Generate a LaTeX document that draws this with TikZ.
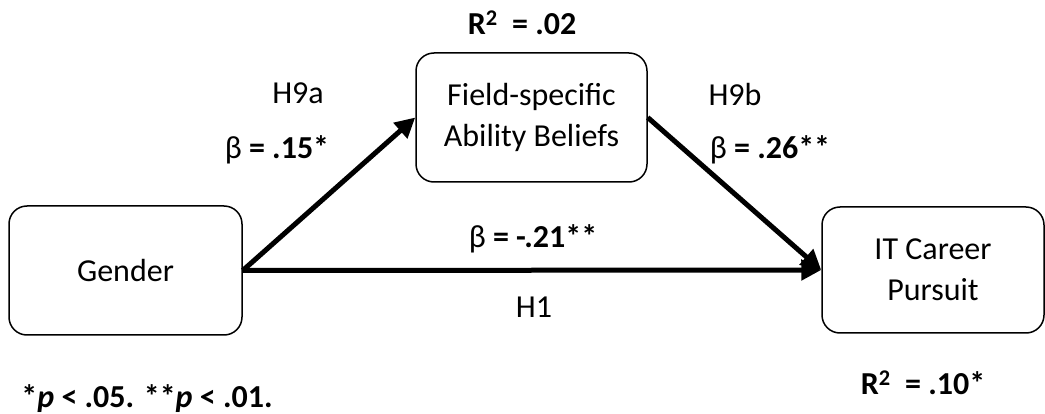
\documentclass[tikz,border=0pt]{standalone}
\usepackage{fontspec}
\setmainfont{Carlito}
\usetikzlibrary{arrows.meta,positioning}

\tikzset{
	varbox/.style = {shape=rectangle, draw, line width=1.5pt,
	rounded corners=18pt, align=center,
	font=\fontsize{32}{41}\selectfont},
	effect/.style = {line width=5pt, -{Triangle[length=20pt,width=20pt]}},
	coef/.style = {font=\fontsize{32}{40}\selectfont},
	stat/.style = {font=\fontsize{32}{40}\selectfont\bfseries}
}

\begin{document}
\begin{tikzpicture}[x=1pt, y=-1pt]
\useasboundingbox (0,0) rectangle (1045,414);

% the three variables
\node[varbox, minimum width=233pt, minimum height=129pt] (gender) at (125.5,270.5) {Gender};
\node[varbox, minimum width=231pt, minimum height=129pt] (belief) at (531.5,117.5) {Field-specific\\Ability Beliefs};
\node[varbox, minimum width=222pt, minimum height=126pt] (career) at (933,270) {IT Career\\Pursuit};

% paths
\draw[effect] (gender.east) -- (belief.west);
\draw[effect] (belief.east) -- (career.west);
\draw[effect] (gender.east) -- (career.west);

% hypotheses and coefficients
\node[coef] (h9a) at (298,93) {H9a};
\node[coef] (b9a) at (277,150) {β \textbf{= .15*}};
\node[coef] (h9b) at (735,95) {H9b};
\node[coef] (b9b) at (770,150) {β \textbf{= .26**}};
\node[coef] (b1) at (533,239) {β \textbf{= -.21**}};
\node[coef] (h1) at (534,307) {H1};

% explained variance
\node[stat] (rbelief) at (522,23) {R\textsuperscript{2}\ \ = .02};
\node[stat] (rcareer) at (923,383) {R\textsuperscript{2}\ \ = .10*};

\node[stat] (note) at (147,399) {*\textit{p} < .05. **\textit{p} < .01.};
\end{tikzpicture}
\end{document}
